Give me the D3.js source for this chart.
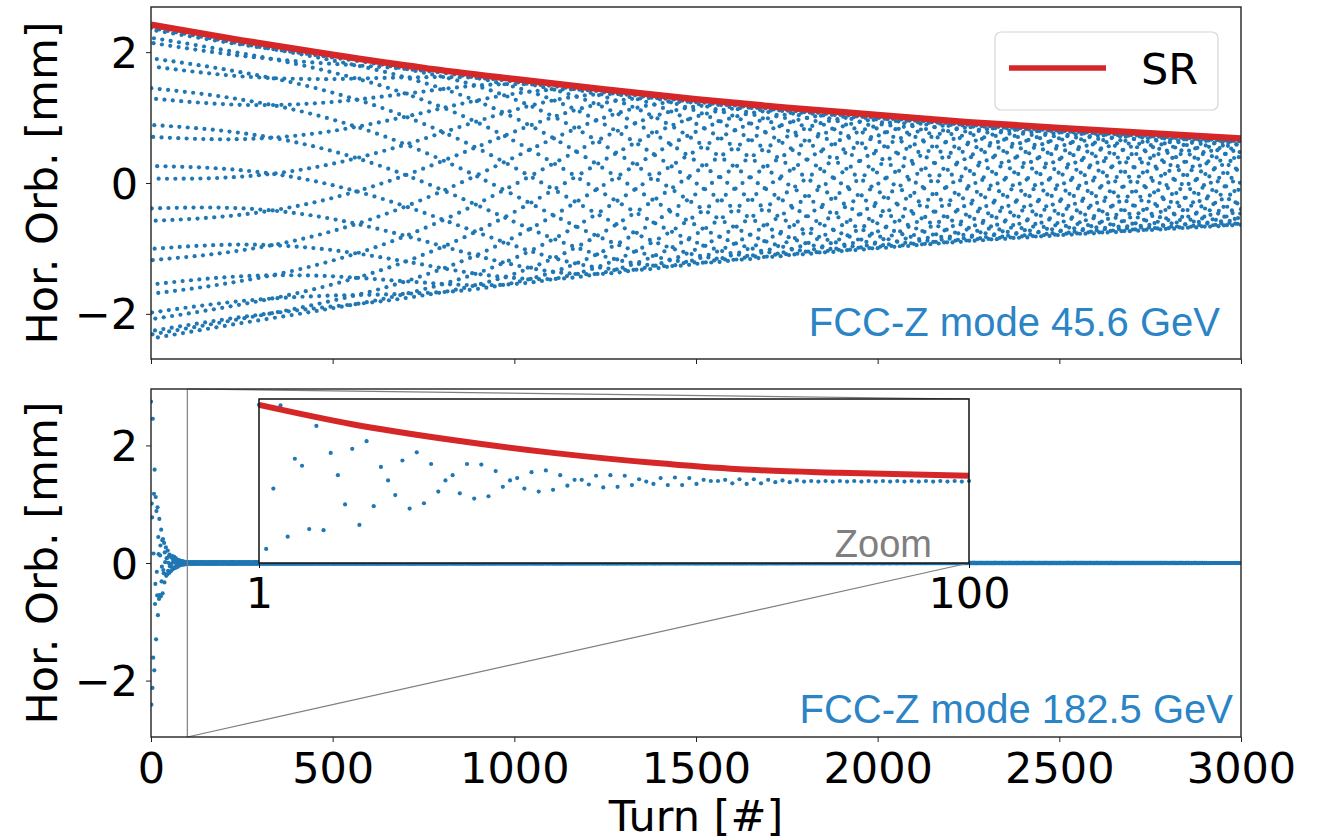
<!DOCTYPE html>
<html><head><meta charset="utf-8">
<script src="https://cdn.jsdelivr.net/npm/d3@7"></script>
<style>body{margin:0;background:#fff}svg{display:block}</style>
</head><body>
<svg id="chart" width="1325" height="840"></svg>
<script>
// ================= DATA =================
// Top panel: synchrotron-radiation damping envelope, 45.6 GeV
const srTurns = [0, 250, 500, 750, 1000, 1250, 1500, 1750, 2000, 2250, 2500, 2750, 3000];
const srZ     = [2.42, 2.18, 1.96, 1.76, 1.59, 1.43, 1.28, 1.15, 1.04, 0.93, 0.84, 0.76, 0.68];
// NOTE: the ~3000 turn-by-turn dots cannot be read individually; they are computed from the
// read envelope plus an estimated tune, initial phase and tune drift (appearance match only).
const tuneZ = 3 / 23;          // estimated fractional tune (23 strands at turn 0)
const phaseZdeg = 5.5;         // estimated initial phase
const detuneZ = 0.00094;       // tune drift, tuned by eye
const nTurns = 3000;

// Bottom panel: damping envelope, 182.5 GeV (read from the left-hand dot spread)
const envTurns = [0, 5, 11, 16, 25, 33, 38, 52, 80, 100, 3000];
const envTt    = [2.8, 2.47, 1.6, 1.1, 0.65, 0.5, 0.3, 0.15, 0.04, 0.015, 0.0];
const tuneTt = 0.39;           // estimated
const phaseTt = 0.2;           // estimated

// Inset (turns 1..100), read point by point
const insetOrbit = [2.70,0.24,1.27,2.69,0.45,1.78,1.66,0.58,2.34,0.56,
  1.88,1.50,1.00,1.95,0.65,2.08,0.97,1.64,1.41,1.16,
  1.75,0.93,1.89,1.02,1.69,1.22,1.41,1.50,1.19,1.69,
  1.10,1.68,1.14,1.57,1.30,1.41,1.45,1.27,1.55,1.22,
  1.58,1.25,1.50,1.32,1.42,1.42,1.34,1.49,1.29,1.50,
  1.30,1.49,1.33,1.43,1.39,1.35,1.45,1.33,1.46,1.33,
  1.45,1.35,1.42,1.40,1.40,1.42,1.36,1.43,1.35,1.43,
  1.36,1.42,1.38,1.41,1.38,1.41,1.39,1.40,1.39,1.40,
  1.39,1.40,1.39,1.40,1.39,1.40,1.39,1.40,1.39,1.40,
  1.39,1.40,1.39,1.40,1.39,1.40,1.39,1.40,1.39,1.40];
const insetSRTurns = [1, 14, 28, 42, 56, 68, 82, 100];
const insetSR      = [2.70, 2.37, 2.10, 1.88, 1.71, 1.60, 1.54, 1.49];

const xTicks = [0, 500, 1000, 1500, 2000, 2500, 3000];
const yTicks = [-2, 0, 2];
const insetTicks = [1, 100];

// ================= DRAWING =================
const svg = d3.select("#chart");
const blue = "#1f77b4", red = "#d62728", txtBlue = "#2a84c6";
const tickFont = "'DejaVu Sans', sans-serif";
const annFont = "'Liberation Sans', Arial, sans-serif";

const x = d3.scaleLinear([0, 3000], [151, 1241]);
const yTop = d3.scaleLinear([-2.69, 2.69], [359, 7]);
const yBot = d3.scaleLinear([-2.96, 2.96], [737, 389]);
const xIn = d3.scaleLinear([1, 100], [259, 969]);
const yIn = d3.scaleLinear([0, 2.8], [563, 399]);

// ---- top data
const srInterp = d3.scaleLinear(srTurns, srZ);
const A0 = srZ[0];
const topPts = [];
let acc = 0;
for (let n = 0; n <= nTurns; n++) {
  const A = srInterp(n) - 0.04;
  const r = srInterp(n) / A0;
  const ph = 2 * Math.PI * (tuneZ * n + acc) + phaseZdeg * Math.PI / 180;
  topPts.push([n, A * Math.cos(ph)]);
  acc += detuneZ * Math.pow(1 - r * r, 2);
}
// ---- bottom data
const envInterp = d3.scaleLinear(envTurns, envTt);
const botPts = [];
for (let n = 0; n <= nTurns; n++) {
  botPts.push([n, envInterp(n) * Math.cos(2 * Math.PI * tuneTt * n + phaseTt)]);
}

function clipRect(id, x0, y0, x1, y1) {
  svg.append("clipPath").attr("id", id).append("rect")
    .attr("x", x0).attr("y", y0).attr("width", x1 - x0).attr("height", y1 - y0);
}
clipRect("cTop", 151, 7, 1241, 359);
clipRect("cBot", 151, 389, 1241, 737);

// ---------- TOP PANEL ----------
const gTop = svg.append("g").attr("clip-path", "url(#cTop)");
gTop.selectAll("circle").data(topPts).join("circle")
  .attr("cx", d => x(d[0])).attr("cy", d => yTop(d[1])).attr("r", 2.1).attr("fill", blue);
gTop.append("path").datum(srTurns.map((t, i) => [t, srZ[i]]))
  .attr("d", d3.line().x(d => x(d[0])).y(d => yTop(d[1])).curve(d3.curveMonotoneX))
  .attr("fill", "none").attr("stroke", red).attr("stroke-width", 6.5);

function frame(y0, y1) {
  svg.append("rect").attr("x", 151).attr("y", y0).attr("width", 1090).attr("height", y1 - y0)
    .attr("fill", "none").attr("stroke", "#222").attr("stroke-width", 1.4);
}
frame(7, 359);

function axes(yScale, y0, y1, showXLabels) {
  const ax = svg.append("g").attr("transform", `translate(0,${y1})`)
    .call(d3.axisBottom(x).tickValues(xTicks).tickSize(5).tickFormat(showXLabels ? d3.format("d") : ""));
  ax.select(".domain").remove();
  ax.selectAll("line").attr("stroke", "#222");
  ax.selectAll("text").attr("font-family", tickFont).attr("font-size", 43).attr("fill", "#000").attr("dy", "0.81em").attr("y", 11);
  const ay = svg.append("g").attr("transform", "translate(151,0)")
    .call(d3.axisLeft(yScale).tickValues(yTicks).tickSize(5).tickFormat(d => d < 0 ? "\u2212" + Math.abs(d) : d));
  ay.select(".domain").remove();
  ay.selectAll("line").attr("stroke", "#222");
  ay.selectAll("text").attr("font-family", tickFont).attr("font-size", 43).attr("fill", "#000").attr("x", -13).attr("dy", "0.35em");
  svg.append("text").attr("transform", `translate(57,${(y0 + y1) / 2}) rotate(-90)`)
    .attr("text-anchor", "middle").attr("font-family", tickFont).attr("font-size", 43)
    .text("Hor. Orb. [mm]");
}
axes(yTop, 7, 359, false);

// legend
svg.append("rect").attr("x", 995).attr("y", 32).attr("width", 223).attr("height", 78).attr("rx", 6)
  .attr("fill", "#fff").attr("fill-opacity", 0.85).attr("stroke", "#d6d6d6").attr("stroke-width", 1.2);
svg.append("line").attr("x1", 1009).attr("x2", 1106).attr("y1", 68).attr("y2", 68)
  .attr("stroke", red).attr("stroke-width", 5.5);
svg.append("text").attr("x", 1141).attr("y", 84).attr("font-family", tickFont).attr("font-size", 43).text("SR");

svg.append("text").attr("x", 1220).attr("y", 336).attr("text-anchor", "end")
  .attr("font-family", annFont).attr("font-size", 40).attr("fill", txtBlue).text("FCC-Z mode 45.6 GeV");

// ---------- BOTTOM PANEL ----------
const gBot = svg.append("g").attr("clip-path", "url(#cBot)");
gBot.selectAll("circle").data(botPts).join("circle")
  .attr("cx", d => x(d[0])).attr("cy", d => yBot(d[1])).attr("r", 2.1).attr("fill", blue);

// zoom indicator
const gray = "#7f7f7f";
svg.append("line").attr("x1", x(100)).attr("x2", x(100)).attr("y1", 389).attr("y2", 737)
  .attr("stroke", gray).attr("stroke-width", 1.2);
svg.append("line").attr("x1", x(100)).attr("y1", 737).attr("x2", xIn(100)).attr("y2", yIn(0))
  .attr("stroke", gray).attr("stroke-width", 1.2);
svg.append("line").attr("x1", x(100)).attr("y1", 389).attr("x2", xIn(100)).attr("y2", yIn(2.8))
  .attr("stroke", gray).attr("stroke-width", 1.2);

frame(389, 737);
axes(yBot, 389, 737, true);

// inset
const gIn = svg.append("g");
gIn.append("rect").attr("x", xIn(1)).attr("y", yIn(2.8)).attr("width", xIn(100) - xIn(1))
  .attr("height", yIn(0) - yIn(2.8)).attr("fill", "#fff");
gIn.selectAll("circle").data(insetOrbit.map((v, i) => [i + 1, v])).join("circle")
  .attr("cx", d => xIn(d[0])).attr("cy", d => yIn(d[1])).attr("r", 2.1).attr("fill", blue);
gIn.append("path").datum(insetSRTurns.map((t, i) => [t, insetSR[i]]))
  .attr("d", d3.line().x(d => xIn(d[0])).y(d => yIn(d[1])).curve(d3.curveMonotoneX))
  .attr("fill", "none").attr("stroke", red).attr("stroke-width", 6);
gIn.append("rect").attr("x", xIn(1)).attr("y", yIn(2.8)).attr("width", xIn(100) - xIn(1))
  .attr("height", yIn(0) - yIn(2.8)).attr("fill", "none").attr("stroke", "#111").attr("stroke-width", 1.5);
const axIn = gIn.append("g").attr("transform", `translate(0,${yIn(0)})`)
  .call(d3.axisBottom(xIn).tickValues(insetTicks).tickSize(5).tickFormat(d3.format("d")));
axIn.select(".domain").remove();
axIn.selectAll("line").attr("stroke", "#111");
axIn.selectAll("text").attr("font-family", tickFont).attr("font-size", 43).attr("fill", "#000").attr("dy", "0.81em").attr("y", 10);
svg.append("text").attr("x", 932).attr("y", 557).attr("text-anchor", "end")
  .attr("font-family", annFont).attr("font-size", 38).attr("fill", gray).text("Zoom");

svg.append("text").attr("x", 1233).attr("y", 723).attr("text-anchor", "end")
  .attr("font-family", annFont).attr("font-size", 40).attr("fill", txtBlue).text("FCC-Z mode 182.5 GeV");

svg.append("text").attr("x", 696).attr("y", 831).attr("text-anchor", "middle")
  .attr("font-family", tickFont).attr("font-size", 43).text("Turn [#]");
</script>
</body></html>
